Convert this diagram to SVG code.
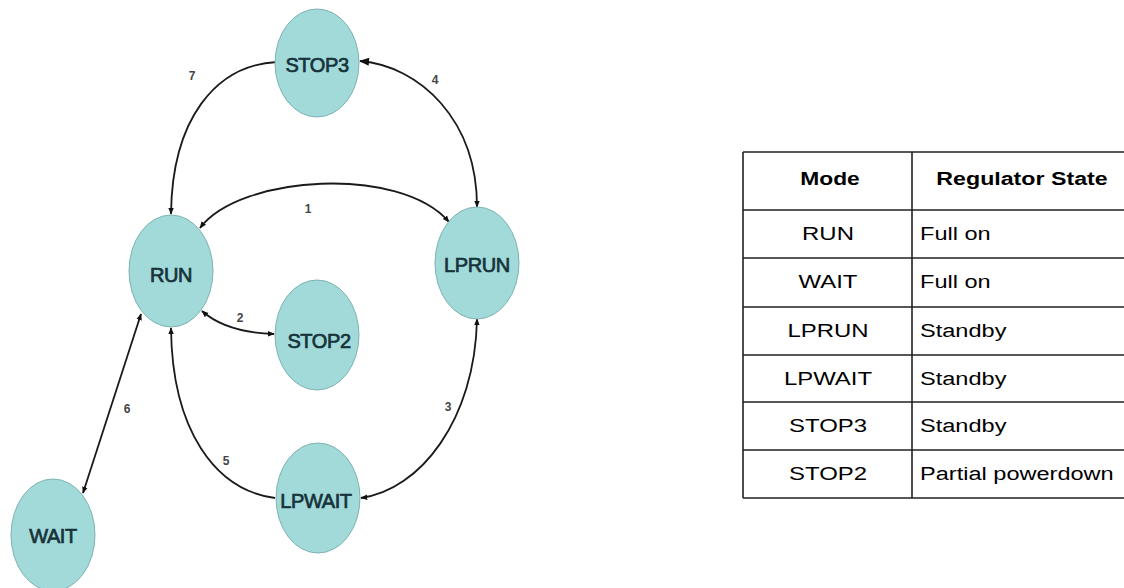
<svg xmlns="http://www.w3.org/2000/svg" width="1124" height="588" viewBox="0 0 1124 588">
<defs>
<marker id="ah" viewBox="0 0 10 10" refX="9" refY="5" markerWidth="7" markerHeight="7" markerUnits="userSpaceOnUse" orient="auto-start-reverse">
<path d="M0,1 L10,5 L0,9 z" fill="#111"/>
</marker>
<marker id="ahb" viewBox="0 0 10 10" refX="9" refY="5" markerWidth="12" markerHeight="10" markerUnits="userSpaceOnUse" orient="auto-start-reverse">
<path d="M0,1 L10,5 L0,9 z" fill="#111"/>
</marker>
<style>
.node ellipse{fill:#a2d9d9;stroke:#7fb3b3;stroke-width:1}
.node text{font-family:"Liberation Sans",Arial,sans-serif;font-size:20px;fill:#16333a;stroke:#16333a;stroke-width:0.7;text-anchor:middle;letter-spacing:-0.4px}
.edge{fill:none;stroke:#1a1a1a;stroke-width:1.8}
.lbl{font-family:"Liberation Sans",Arial,sans-serif;font-size:12px;font-weight:bold;fill:#444;text-anchor:middle}
.tl{stroke:#222;stroke-width:1.6;fill:none}
.th{font-family:"Liberation Sans",Arial,sans-serif;font-size:19px;font-weight:bold;fill:#000}
.td{font-family:"Liberation Sans",Arial,sans-serif;font-size:19px;fill:#000}
</style>
</defs>
<rect width="1124" height="588" fill="#fff"/>
<g id="connectors">
<path id="e7" class="edge" d="M277,62 C215,65 172,120 171,214" marker-end="url(#ah)"/>
<path id="e4" class="edge" d="M360,61 C420,66 477,120 477,207" marker-start="url(#ahb)" marker-end="url(#ah)"/>
<path id="e1" class="edge" d="M200,228 C240,175 400,165 449,222" marker-start="url(#ah)" marker-end="url(#ah)"/>
<path id="e2" class="edge" d="M202,311 C220,327 245,333 274,334" marker-start="url(#ah)" marker-end="url(#ah)"/>
<path id="e6" class="edge" d="M141,314 L83,493" marker-start="url(#ah)" marker-end="url(#ah)"/>
<path id="e5" class="edge" d="M275,498 C215,490 172,430 171,328" marker-end="url(#ah)"/>
<path id="e3" class="edge" d="M477,319 C475,420 420,490 361,498" marker-start="url(#ah)" marker-end="url(#ah)"/>
<text class="lbl" x="192" y="80">7</text>
<text class="lbl" x="435" y="84">4</text>
<text class="lbl" x="308" y="213">1</text>
<text class="lbl" x="240" y="322">2</text>
<text class="lbl" x="127" y="413">6</text>
<text class="lbl" x="226" y="465">5</text>
<text class="lbl" x="448" y="411">3</text>
</g>
<g id="STOP3" class="node"><ellipse cx="317" cy="63" rx="42" ry="54"/><text x="317" y="72">STOP3</text></g>
<g id="RUN" class="node"><ellipse cx="171" cy="271" rx="42" ry="56"/><text x="171" y="282">RUN</text></g>
<g id="LPRUN" class="node"><ellipse cx="477" cy="263" rx="42" ry="56"/><text x="477" y="272">LPRUN</text></g>
<g id="STOP2" class="node"><ellipse cx="317" cy="335" rx="42" ry="55"/><text x="319" y="348">STOP2</text></g>
<g id="LPWAIT" class="node"><ellipse cx="318" cy="498" rx="42" ry="55"/><text x="316" y="508">LPWAIT</text></g>
<g id="WAIT" class="node"><ellipse cx="53" cy="535" rx="42" ry="56"/><text x="53" y="543">WAIT</text></g>
<g id="table">
<path class="tl" d="M743,152 H1130 M743,210 H1130 M743,258 H1130 M743,307 H1130 M743,355 H1130 M743,402 H1130 M743,450 H1130 M743,498 H1130 M743,152 V498 M912,152 V498 M1130,152 V498"/>
<text class="th" text-anchor="middle" transform="translate(830 185) scale(1.2 1)">Mode</text>
<text class="th" text-anchor="middle" transform="translate(1022 185) scale(1.22 1)">Regulator State</text>
<text class="td" text-anchor="middle" transform="translate(828 240) scale(1.26 1)">RUN</text>
<text class="td" text-anchor="middle" transform="translate(828 288) scale(1.26 1)">WAIT</text>
<text class="td" text-anchor="middle" transform="translate(828 337) scale(1.26 1)">LPRUN</text>
<text class="td" text-anchor="middle" transform="translate(828 385) scale(1.26 1)">LPWAIT</text>
<text class="td" text-anchor="middle" transform="translate(828 432) scale(1.26 1)">STOP3</text>
<text class="td" text-anchor="middle" transform="translate(828 480) scale(1.26 1)">STOP2</text>
<text class="td" transform="translate(920 240) scale(1.24 1)">Full on</text>
<text class="td" transform="translate(920 288) scale(1.24 1)">Full on</text>
<text class="td" transform="translate(920 337) scale(1.24 1)">Standby</text>
<text class="td" transform="translate(920 385) scale(1.24 1)">Standby</text>
<text class="td" transform="translate(920 432) scale(1.24 1)">Standby</text>
<text class="td" transform="translate(920 480) scale(1.24 1)">Partial powerdown</text>
</g>
</svg>
